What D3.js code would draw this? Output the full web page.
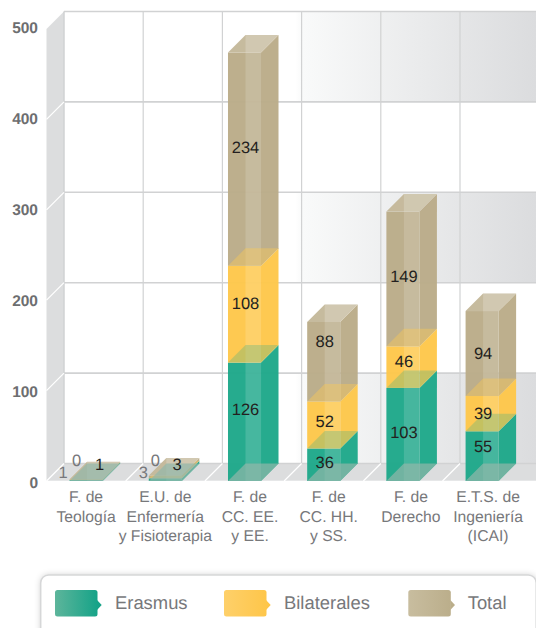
<!DOCTYPE html>
<html><head><meta charset="utf-8">
<script src="https://cdn.jsdelivr.net/npm/d3@7/dist/d3.min.js"></script>
<style>html,body{margin:0;padding:0;background:#fff;overflow:hidden}svg{display:block;font-family:"Liberation Sans",Arial,sans-serif;text-rendering:geometricPrecision}</style>
</head><body><div id="chart"></div>
<script>
// ---- data
const categories = [["F. de","Teología"],["E.U. de","Enfermería","y Fisioterapia"],["F. de","CC. EE.","y EE."],["F. de","CC. HH.","y SS."],["F. de","Derecho"],["E.T.S. de","Ingeniería","(ICAI)"]];
const seriesNames = ["Erasmus","Bilaterales","Total"];
// bar heights
const erasmus = [1,3,131,36,103,55];
const bilaterales = [0,0,107,52,46,39];
const total = [1,3,236,88,149,94];
// numbers printed on the bars
const erasmusLabels = [1,3,126,36,103,55];
const bilateralesLabels = [0,0,108,52,46,39];
const totalLabels = [1,3,234,88,149,94];
const yTicks = [0,100,200,300,400,500];

// ---- layout and style
const W=536,H=628,D=17.5;
const seriesColors=["#20a98b","#fec84c","#bbad8a"];
const overlayAlpha=[.26,.4];
const legendStops=[["#5db59b","#16a388"],["#fed06a","#fec64a"],["#c8bd9f","#bbae8b"]];
const labelDx=[[-24,-23,0,0,0,0],[-10.6,-11,0,0,0,0],[12.4,10.7,0,0,0,0]];
const labelDy=[[-8.5,-7.6,-12.7,-2.7,-2.4,-10],[-20,-18,-11,-4,-6,0],[-15.6,-13,-12,-20.6,-3,0]];
const catDx=[0,0,5.5,5,8,6];

const x=d3.scaleBand().domain(d3.range(categories.length)).range([46.5,46.5+6*79.2]).paddingInner(.583).paddingOuter(.2915);
const y=d3.scaleLinear().domain([0,500]).range([481,29]);
const yLabel=d3.scaleLinear().domain([0,500]).range([483,27.5]);
const svg=d3.select("#chart").append("svg").attr("width",W).attr("height",H);
const defs=svg.append("defs");
const grad=defs.append("linearGradient").attr("id","wall").attr("gradientUnits","userSpaceOnUse").attr("x1",64).attr("x2",536).attr("y1",0).attr("y2",0);
[[0,"#ffffff"],[.49,"#ffffff"],[.505,"#f9fafa"],[1,"#dbdcde"]].forEach(s=>grad.append("stop").attr("offset",s[0]).attr("stop-color",s[1]));
legendStops.forEach((s,i)=>{const g=defs.append("linearGradient").attr("id","lg"+i);g.append("stop").attr("offset",0).attr("stop-color",s[0]);g.append("stop").attr("offset",1).attr("stop-color",s[1]);});
const blur=defs.append("filter").attr("id","soft").attr("x","-10%").attr("y","-30%").attr("width","120%").attr("height","160%");
blur.append("feGaussianBlur").attr("stdDeviation",3);

const poly=(g,pts,fill,op)=>g.append("polygon").attr("points",pts.map(p=>p.join(",")).join(" ")).attr("fill",fill).attr("fill-opacity",op==null?1:op);
const gridC="#d1d2d3";
const x0=46.5,xb=x0+D,y0=y(0),yTop=y(500);

// back wall bands
[[400,500],[200,300],[0,100]].forEach(b=>svg.append("rect").attr("x",xb).attr("width",W-xb).attr("y",y(b[1])-D).attr("height",y(b[0])-y(b[1])).attr("fill","url(#wall)"));
// side wall and floor
poly(svg,[[x0,yTop],[xb,yTop-D],[xb,y0-D],[x0,y0]],"#dcddde");
poly(svg,[[x0,y0],[xb,y0-D],[W,y0-D],[W,y0]],"#dcddde");
// grid on the back wall
yTicks.forEach(t=>{svg.append("line").attr("x1",xb).attr("x2",W).attr("y1",y(t)-D).attr("y2",y(t)-D).attr("stroke",gridC).attr("stroke-width",1.6);});
d3.range(6).forEach(i=>{const vx=xb+i*x.step();svg.append("line").attr("x1",vx).attr("x2",vx).attr("y1",yTop-D).attr("y2",y0-D).attr("stroke",gridC).attr("stroke-width",i?1.2:1.5);});
// white slanted ticks
yTicks.slice(1,5).forEach(t=>svg.append("line").attr("x1",x0).attr("y1",y(t)).attr("x2",xb).attr("y2",y(t)-D).attr("stroke","#fff").attr("stroke-width",1.2));
d3.range(6).forEach(i=>svg.append("line").attr("x1",x0+i*x.step()).attr("y1",y0).attr("x2",xb+i*x.step()).attr("y2",y0-D).attr("stroke","#fff").attr("stroke-width",1.2));
svg.append("line").attr("x1",x0).attr("x2",W).attr("y1",y0).attr("y2",y0).attr("stroke","#fff").attr("stroke-width",.6);

// bars
const stackRows=categories.map((c,i)=>({erasmus:erasmus[i],bilaterales:bilaterales[i],total:total[i]}));
const stacked=d3.stack().keys(["erasmus","bilaterales","total"])(stackRows);
categories.forEach((c,i)=>{
  const g=svg.append("g").attr("opacity",.97);
  const a=x(i),b=a+x.bandwidth();
  stacked.forEach((layer,s)=>{
    const yB=y(layer[i][0]),yT=y(layer[i][1]),col=seriesColors[s];
    if(yB-yT<=0) return;
    g.append("rect").attr("x",a).attr("width",b-a).attr("y",yT).attr("height",yB-yT).attr("fill",col);
    poly(g,[[b,yB],[b+D,yB-D],[b+D,yT-D],[b,yT]],col);
    g.append("rect").attr("x",a+D).attr("width",b-a-D).attr("y",yT).attr("height",Math.max(0,yB-yT)).attr("fill","#fff").attr("fill-opacity",.15);
    if(s>0) poly(g,[[a,yB],[b,yB],[b+D,yB-D],[a+D,yB-D]],seriesColors[s-1],overlayAlpha[s-1]);
  });
  const yT=y(stacked[2][i][1]);
  poly(g,[[a,yT],[b,yT],[b+D,yT-D],[a+D,yT-D]],"#c5b99b");
  poly(g,[[a+D,yT],[b,yT],[b+D,yT-D],[a+D,yT-D]],"#fff",.2);
  // floor of the bar
  poly(g,[[a,y0],[b,y0],[b+D,y0-D],[a+D,y0-D]],"rgb(144,183,169)",.7);
});

// value labels
const labelSets=[erasmusLabels,bilateralesLabels,totalLabels];
stacked.forEach((layer,s)=>categories.forEach((c,i)=>{
  const mid=(y(layer[i][0])+y(layer[i][1]))/2;
  svg.append("text").attr("x",x(i)+x.bandwidth()/2+1+labelDx[s][i]).attr("y",mid+labelDy[s][i]).attr("dy",".35em")
   .attr("text-anchor","middle").attr("font-size",16.5).attr("fill",(i<2&&s<2)?"#77787b":"#231f20").text(labelSets[s][i]);
}));

// y tick labels
yTicks.forEach(t=>svg.append("text").attr("x",38).attr("y",yLabel(t)).attr("dy",".35em").attr("text-anchor","end").attr("font-size",15.5).attr("font-weight","bold").attr("fill","#6d6e70").text(t));

// category labels
categories.forEach((lines,i)=>{
  const t=svg.append("text").attr("text-anchor","middle").attr("font-size",15.7).attr("fill","#77787b");
  lines.forEach((l,k)=>t.append("tspan").attr("x",x(i)+x.bandwidth()/2+catDx[i]).attr("y",497+k*19.5).attr("dy",".35em").text(l));
});

// legend
svg.append("rect").attr("x",40.7).attr("y",575).attr("width",495.5).attr("height",80).attr("rx",8).attr("fill","#000").attr("fill-opacity",.2).attr("filter","url(#soft)");
svg.append("rect").attr("x",40.7).attr("y",575).attr("width",495.5).attr("height",80).attr("rx",8).attr("fill","#fff").attr("stroke","#d6d7d8").attr("stroke-width",1.5);
const legendX=[55,224,408.3],legendTextX=[115,284,467.7];
seriesNames.forEach((n,i)=>{
  const lx=legendX[i];
  poly(svg,[[lx+42,600],[lx+46.7,605],[lx+42,610]],legendStops[i][1]);
  svg.append("rect").attr("x",lx).attr("y",590).attr("width",42.5).attr("height",26.5).attr("rx",2.5).attr("fill",`url(#lg${i})`);
  svg.append("text").attr("x",legendTextX[i]).attr("y",603).attr("dy",".35em").attr("font-size",18.4).attr("fill","#77787b").text(n);
});
</script></body></html>
